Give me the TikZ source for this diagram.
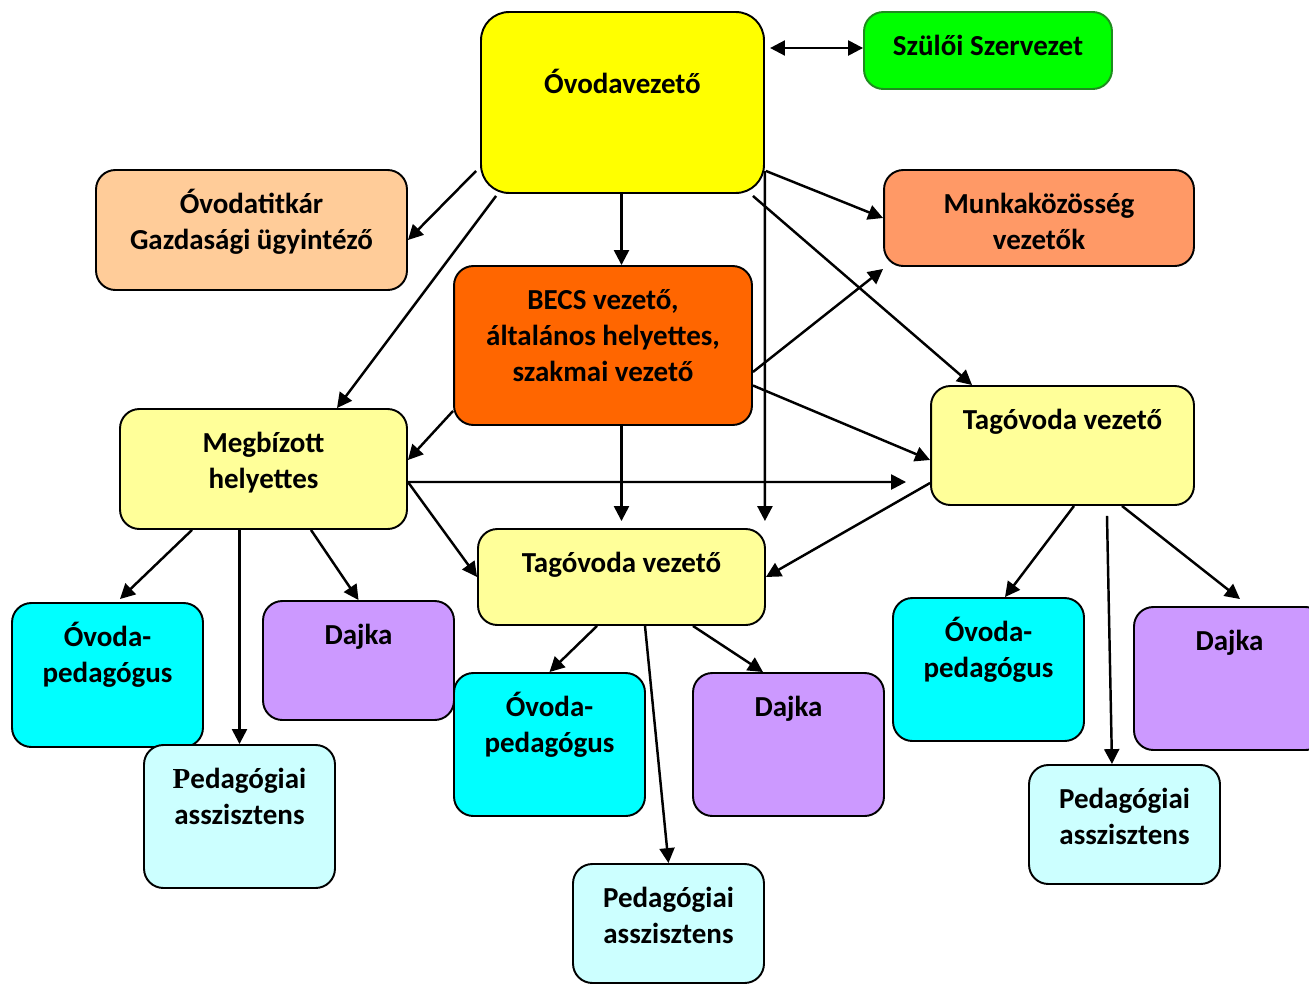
\documentclass[tikz,border=0pt]{standalone}
\usepackage{fontspec}
\setmainfont{Carlito}
\newfontfamily\pfont{Liberation Serif}
\usetikzlibrary{calc,arrows.meta}
\definecolor{cYel}{HTML}{FFFF00}
\definecolor{cGreen}{HTML}{00FF00}
\definecolor{cGreenDk}{HTML}{1E8C1E}
\definecolor{cPeach}{HTML}{FFCC99}
\definecolor{cSalmon}{HTML}{FF9966}
\definecolor{cOrange}{HTML}{FF6600}
\definecolor{cLight}{HTML}{FFFF99}
\definecolor{cCyan}{HTML}{00FFFF}
\definecolor{cLilac}{HTML}{CC99FF}
\definecolor{cPale}{HTML}{CCFFFF}
\tikzset{
	box/.style={draw=black, line width=1.1pt, rounded corners=11pt, inner sep=0pt},
	txt/.style={anchor=north, yshift=-11pt, inner sep=0pt, align=center, font=\fontsize{16.5}{20.4}\selectfont\bfseries},
	arr/.style={line width=1.4pt, ->},
	>={Triangle[length=8.5pt,width=8.5pt]}
}

\begin{document}
\begin{tikzpicture}[x=0.02cm, y=-0.02cm]
			%%%%% START %%%%%
			\useasboundingbox (0,0) rectangle (1309,984);
			
			\node[box, fill=cYel, rounded corners=16pt, minimum width=5.66cm, minimum height=3.62cm, label={[txt, yshift=-21.5pt]north:{\strut Óvodavezető}}] (ovv) at (622.5,102.5) {};
			\node[box, fill=cGreen, draw=cGreenDk, minimum width=4.96cm, minimum height=1.54cm, label={[txt]north:{\strut Szülői Szervezet}}] (szulo) at (988,50.5) {};
			\node[box, fill=cPeach, minimum width=6.22cm, minimum height=2.40cm, label={[txt]north:{\strut Óvodatitkár\\Gazdasági ügyintéző}}] (titkar) at (251.5,230) {};
			\node[box, fill=cSalmon, minimum width=6.20cm, minimum height=1.92cm, label={[txt]north:{\strut Munkaközösség\\vezetők}}] (munka) at (1039,218) {};
			\node[box, fill=cOrange, minimum width=5.96cm, minimum height=3.18cm, label={[txt]north:{\strut BECS vezető,\\általános helyettes,\\szakmai vezető}}] (becs) at (603,345.5) {};
			
			\node[box, fill=cLight, minimum width=5.74cm, minimum height=2.40cm, label={[txt]north:{\strut Megbízott\\helyettes}}] (megb) at (263.5,469) {};
			\node[box, fill=cLight, minimum width=5.26cm, minimum height=2.38cm, label={[txt]north:{\strut Tagóvoda vezető}}] (tagR) at (1062.5,445.5) {};
			\node[box, fill=cLight, minimum width=5.74cm, minimum height=1.92cm, label={[txt]north:{\strut Tagóvoda vezető}}] (tagC) at (621.5,577) {};
			
			\node[box, fill=cCyan, minimum width=3.82cm, minimum height=2.88cm, label={[txt]north:{\strut Óvoda-\\pedagógus}}] (opL) at (107.5,675) {};
			\node[box, fill=cLilac, minimum width=3.82cm, minimum height=2.38cm, label={[txt]north:{\strut Dajka}}] (dajL) at (358.5,660.5) {};
			\node[box, fill=cPale, minimum width=3.82cm, minimum height=2.86cm, label={[txt]north:{\strut {\pfont\bfseries P}edagógiai\\asszisztens}}] (paL) at (239.5,816.5) {};
			
			\node[box, fill=cCyan, minimum width=3.82cm, minimum height=2.86cm, label={[txt]north:{\strut Óvoda-\\pedagógus}}] (opC) at (549.5,744.5) {};
			\node[box, fill=cLilac, minimum width=3.82cm, minimum height=2.86cm, label={[txt]north:{\strut Dajka}}] (dajC) at (788.5,744.5) {};
			\node[box, fill=cPale, minimum width=3.82cm, minimum height=2.38cm, label={[txt]north:{\strut Pedagógiai\\asszisztens}}] (paC) at (668.5,923.5) {};
			
			\node[box, fill=cCyan, minimum width=3.82cm, minimum height=2.86cm, label={[txt]north:{\strut Óvoda-\\pedagógus}}] (opR) at (988.5,669.5) {};
			\node[box, fill=cLilac, minimum width=3.82cm, minimum height=2.86cm, label={[txt]north:{\strut Dajka}}] (dajR) at (1229.5,678.5) {};
			\node[box, fill=cPale, minimum width=3.82cm, minimum height=2.38cm, label={[txt]north:{\strut Pedagógiai\\asszisztens}}] (paR) at (1124.5,824.5) {};
			
			\draw[arr, <->] ($(szulo.west)+(-93,-2.5)$) -- ($(szulo.west)+(0,-2.5)$);
			\draw[arr] ($(ovv.south west)+(-4,-23)$) -- ($(titkar.east)+(0,10)$);
			\draw[arr] ($(ovv.south west)+(16,2)$) -- ($(megb.north)+(73.5,0)$);
			\draw[arr] (ovv.south -| tagC.north) -- (becs.north -| tagC.north);
			\draw[arr] ($(ovv.south east)+(1,-23)$) -- (munka.west);
			\draw[arr] ($(ovv.south east)+(-12,2)$) -- ($(tagR.north west)+(42,0)$);
			\draw[arr] ($(ovv.south east)+(0,-23)$) -- ($(tagC.north east)+(-1,-7)$);
			
			\draw[arr] ($(becs.east)+(0,26.5)$) -- ($(munka.south west)+(0,2)$);
			\draw[arr] ($(becs.east)+(0,40)$) -- ($(tagR.west)+(0,14.5)$);
			\draw[arr] ($(becs.south west)+(0,-15)$) -- ($(megb.east)+(0,-9)$);
			\draw[arr] (becs.south -| tagC.north) -- ($(tagC.north)+(0,-7)$);
			
			\draw[arr] ($(megb.east)+(0,13)$) -- ($(tagR.west)+(-24,36.5)$);
			\draw[arr] ($(megb.east)+(0,13)$) -- (tagC.west);
			\draw[arr] ($(tagR.west)+(0,37.5)$) -- (tagC.east);
			
			\draw[arr] ($(megb.south)+(-71.5,0)$) -- ($(opL.north)+(12.5,-3)$);
			\draw[arr] (megb.south -| paL.north) -- (paL.north);
			\draw[arr] ($(megb.south)+(47.5,0)$) -- (dajL.north);
			
			\draw[arr] ($(tagC.south)+(-24.5,0)$) -- (opC.north);
			\draw[arr] ($(tagC.south)+(23.5,0)$) -- (paC.north);
			\draw[arr] ($(tagC.south)+(71.5,0)$) -- ($(dajC.north)+(-25.5,0)$);
			
			\draw[arr] ($(tagR.south)+(11.5,0)$) -- ($(opR.north)+(16.5,0)$);
			\draw[arr] ($(tagR.south)+(44.5,10)$) -- ($(paR.north)+(-12.5,0)$);
			\draw[arr] ($(tagR.south)+(59.5,0)$) -- ($(dajR.north)+(10.5,-7)$);
			%%%%% END %%%%%
\end{tikzpicture}
\end{document}
